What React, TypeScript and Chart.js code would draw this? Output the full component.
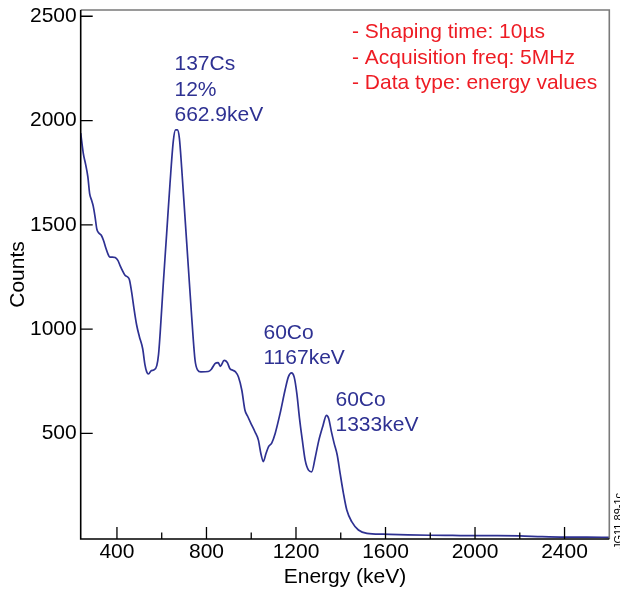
import React, { useEffect, useRef } from 'react';
import { Chart, registerables } from 'chart.js';

Chart.register(...registerables);

// ---- Data ----
const energies = [
  238, 250, 260, 270, 278, 286, 294, 302, 310, 318, 330, 340, 350, 360, 368, 380, 392, 404, 414, 424,
  436, 448, 456, 466, 476, 488, 500, 515, 525, 533, 541, 552, 565, 578, 586, 593, 607, 622, 637, 652,
  662, 670, 679, 689, 704, 719, 734, 749, 760, 775, 808, 822, 838, 852, 862, 879, 893, 905, 918, 930,
  943, 958, 972, 985, 1000, 1017, 1032, 1043, 1054, 1066, 1077, 1092, 1107, 1129, 1151, 1166, 1180, 1192, 1204, 1216,
  1228, 1241, 1256, 1270, 1286, 1301, 1320, 1336, 1346, 1358, 1370, 1384, 1397, 1412, 1427, 1449, 1479, 1517, 1590, 1700,
  1800, 1900, 2000, 2100, 2200, 2300, 2400, 2500, 2600,
];
const counts = [
  1940, 1840, 1790, 1730, 1650, 1620, 1590, 1540, 1480, 1462, 1450, 1425, 1390, 1360, 1345, 1345, 1343, 1330, 1305, 1282,
  1258, 1250, 1236, 1175, 1100, 1020, 965, 906, 830, 795, 785, 800, 805, 825, 880, 980, 1218, 1457, 1697, 1904,
  1955, 1955, 1915, 1776, 1537, 1297, 1058, 851, 805, 795, 797, 808, 835, 840, 822, 850, 840, 810, 803, 795,
  771, 707, 611, 580, 545, 507, 468, 404, 365, 404, 436, 455, 500, 596, 707, 771, 790, 770, 690, 570,
  470, 372, 324, 316, 385, 462, 535, 587, 572, 510, 455, 398, 310, 213, 133, 77, 37, 21, 17, 14,
  12, 11, 10, 10, 9, 5, 3, 3, 2,
];

const xMin = 238;
const xMax = 2600;
const yMin = -6;
const yMax = 2530;
const xMajorTicks = [400, 800, 1200, 1600, 2000, 2400];
const xMinorTicks = [600, 1000, 1400, 1800, 2200];
const yMajorTicks = [500, 1000, 1500, 2000, 2500];

const peakNotes = [
  { lines: ['137Cs', '12%', '662.9keV'] },
  { lines: ['60Co', '1167keV'] },
  { lines: ['60Co', '1333keV'] },
];
const infoLines = ['- Shaping time: 10µs', '- Acquisition freq: 5MHz', '- Data type: energy values'];
const figureId = 'JG11.89-1c';

// ---- Layout / style (not data) ----
const W = 620;
const H = 592;
const FONT = '"Liberation Sans", Arial, Helvetica, sans-serif';
const BLUE = '#2e3192';
const RED = '#ee1c24';
const notePos = [
  { x: 174.5, y: [69.5, 95.5, 121] },
  { x: 263.5, y: [339, 363.5] },
  { x: 335.5, y: [406, 431] },
];
const infoPos = { x: 352, y: [37.5, 63.5, 88.5] };

const overlayPlugin = {
  id: 'overlay',
  afterDraw(chart: any) {
    const { ctx, chartArea: ca, scales } = chart;
    const xs = scales.x;
    const ys = scales.y;
    ctx.save();

    // inner tick marks
    ctx.strokeStyle = '#000';
    ctx.lineWidth = 1.3;
    ctx.beginPath();
    for (const v of xMajorTicks) {
      const px = xs.getPixelForValue(v);
      ctx.moveTo(px, ca.bottom);
      ctx.lineTo(px, ca.bottom - 12);
    }
    for (const v of xMinorTicks) {
      const px = xs.getPixelForValue(v);
      ctx.moveTo(px, ca.bottom);
      ctx.lineTo(px, ca.bottom - 6.5);
    }
    for (const v of yMajorTicks) {
      const py = ys.getPixelForValue(v);
      ctx.moveTo(ca.left, py);
      ctx.lineTo(ca.left + 12, py);
    }
    ctx.stroke();

    // frame
    ctx.lineWidth = 1.6;
    ctx.strokeStyle = '#7a7a7a';
    ctx.beginPath();
    ctx.moveTo(ca.left, ca.top);
    ctx.lineTo(ca.right, ca.top);
    ctx.lineTo(ca.right, ca.bottom);
    ctx.stroke();
    ctx.strokeStyle = '#000';
    ctx.beginPath();
    ctx.moveTo(ca.left, ca.top);
    ctx.lineTo(ca.left, ca.bottom);
    ctx.lineTo(ca.right, ca.bottom);
    ctx.stroke();

    // peak annotations
    ctx.font = `21px ${FONT}`;
    ctx.textAlign = 'left';
    ctx.textBaseline = 'alphabetic';
    ctx.fillStyle = BLUE;
    peakNotes.forEach((n, i) => {
      n.lines.forEach((t, j) => ctx.fillText(t, notePos[i].x, notePos[i].y[j]));
    });

    // info text
    ctx.fillStyle = RED;
    infoLines.forEach((t, j) => ctx.fillText(t, infoPos.x, infoPos.y[j]));

    // figure id (vertical, clipped at the right edge)
    ctx.fillStyle = '#000';
    ctx.font = `11px ${FONT}`;
    ctx.translate(622, 549);
    ctx.rotate(-Math.PI / 2);
    ctx.fillText(figureId, 0, 0);

    ctx.restore();
  },
};

export default function App() {
  const ref = useRef<HTMLCanvasElement | null>(null);

  useEffect(() => {
    if (!ref.current) return;
    const chart = new Chart(ref.current, {
      type: 'line',
      data: {
        datasets: [
          {
            data: energies.map((e, i) => ({ x: e, y: counts[i] })),
            borderColor: BLUE,
            borderWidth: 1.7,
            pointRadius: 0,
            fill: false,
            cubicInterpolationMode: 'monotone',
          },
        ],
      },
      options: {
        responsive: false,
        animation: false,
        devicePixelRatio: 1,
        layout: { padding: { top: 10, right: 10.7, left: 0, bottom: 0 } },
        plugins: { legend: { display: false }, tooltip: { enabled: false } },
        scales: {
          x: {
            type: 'linear',
            min: xMin,
            max: xMax,
            afterBuildTicks: (s: any) => {
              s.ticks = xMajorTicks.map((v) => ({ value: v }));
            },
            afterFit: (s: any) => {
              s.height = 53;
              s.paddingLeft = 0;
              s.paddingRight = 0;
            },
            grid: { display: false, drawTicks: false },
            border: { display: false },
            ticks: {
              color: '#000',
              font: { family: FONT, size: 21 },
              padding: 1,
              maxRotation: 0,
              autoSkip: false,
              callback: (v: any) => String(v),
            },
            title: {
              display: true,
              text: 'Energy (keV)',
              color: '#000',
              font: { family: FONT, size: 21 },
              padding: { top: 0, bottom: 2.4 },
            },
          },
          y: {
            type: 'linear',
            min: yMin,
            max: yMax,
            afterBuildTicks: (s: any) => {
              s.ticks = yMajorTicks.map((v) => ({ value: v }));
            },
            afterFit: (s: any) => {
              s.width = 80.7;
              s.paddingTop = 0;
              s.paddingBottom = 0;
            },
            grid: { display: false, drawTicks: false },
            border: { display: false },
            ticks: {
              color: '#000',
              font: { family: FONT, size: 21 },
              padding: 4,
              autoSkip: false,
              callback: (v: any) => String(v),
            },
            title: {
              display: true,
              text: 'Counts',
              color: '#000',
              font: { family: FONT, size: 21 },
              padding: { top: 5.4, bottom: 0 },
            },
          },
        },
      },
      plugins: [overlayPlugin],
    });
    return () => chart.destroy();
  }, []);

  return (
    <div style={{ position: 'absolute', left: 0, top: 0, width: W, height: H, background: '#fff' }}>
      <canvas ref={ref} width={W} height={H} style={{ width: W, height: H, display: 'block' }} />
    </div>
  );
}
